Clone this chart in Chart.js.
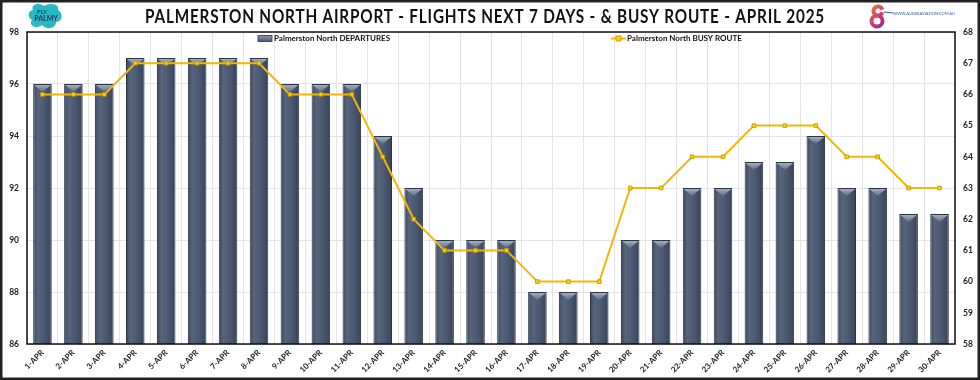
<!DOCTYPE html>
<html>
<head>
<meta charset="utf-8">
<script src="https://cdn.jsdelivr.net/npm/chart.js@4/dist/chart.umd.min.js"></script>
<style>
html,body{margin:0;padding:0;background:#fff;}
#wrap{width:980px;height:380px;position:relative;}
</style>
</head>
<body>
<div id="wrap"><canvas id="c" width="980" height="380"></canvas></div>
<script>
const categories = ['1-APR','2-APR','3-APR','4-APR','5-APR','6-APR','7-APR','8-APR','9-APR','10-APR',
  '11-APR','12-APR','13-APR','14-APR','15-APR','16-APR','17-APR','18-APR','19-APR','20-APR',
  '21-APR','22-APR','23-APR','24-APR','25-APR','26-APR','27-APR','28-APR','29-APR','30-APR'];
const departures = [96,96,96,97,97,97,97,97,96,96,96,94,92,90,90,90,88,88,88,90,90,92,92,93,93,94,92,92,91,91];
const busyRoute  = [66,66,66,67,67,67,67,67,66,66,66,64,62,61,61,61,60,60,60,63,63,64,64,65,65,65,64,64,63,63];
const leftTicks = {min:86, max:98, step:2};
const rightTicks = {min:58, max:68, step:1};
const titleText = 'PALMERSTON NORTH AIRPORT - FLIGHTS NEXT 7 DAYS - & BUSY ROUTE - APRIL 2025';
const barLabel = 'Palmerston North DEPARTURES';
const lineLabel = 'Palmerston North BUSY ROUTE';

const FONT = 'Lato, "Open Sans", sans-serif';

function barGradient(context){
  const chart = context.chart;
  const xs = chart.scales.x;
  if(!xs || context.dataIndex === undefined) return '#4d5b75';
  const cx = xs.getPixelForValue(context.dataIndex);
  const w = (xs.width / categories.length) * 0.6;
  if(!isFinite(cx) || !isFinite(w) || w <= 0) return '#4d5b75';
  const g = chart.ctx.createLinearGradient(cx - w/2, 0, cx + w/2, 0);
  g.addColorStop(0, '#3d495f');
  g.addColorStop(0.25, '#56647e');
  g.addColorStop(0.6, '#4a5872');
  g.addColorStop(1, '#38445a');
  return g;
}

const decor = {
  id:'decor',
  afterDatasetDraw(chart, args){
    if(args.index !== 1) return;
    const ctx = chart.ctx;
    const meta = chart.getDatasetMeta(1);
    ctx.save();
    meta.data.forEach(el => {
      const l = el.x - el.width/2 + 1, r = el.x + el.width/2 - 1, t = el.y + 1;
      const h = 7;
      const g = ctx.createLinearGradient(0, t, 0, t + h);
      g.addColorStop(0, '#a3aec0');
      g.addColorStop(1, '#5d6b85');
      ctx.fillStyle = g;
      ctx.beginPath();
      ctx.moveTo(l, t); ctx.lineTo(r, t); ctx.lineTo(el.x, t + h); ctx.closePath();
      ctx.fill();
    });
    ctx.restore();
  },
  afterDraw(chart){
    const ctx = chart.ctx;
    const a = chart.chartArea;
    ctx.save();
    ctx.strokeStyle = '#111';
    ctx.lineWidth = 1.5;
    ctx.strokeRect(a.left, a.top, a.right - a.left, a.bottom - a.top);
    ctx.lineWidth = 2.5;
    ctx.strokeStyle = '#222';
    ctx.strokeRect(1.25, 1.25, chart.width - 2.5, chart.height - 2.5);

    ctx.fillStyle = '#111';
    ctx.font = 'bold 19px ' + FONT;
    ctx.textBaseline = 'middle';
    ctx.textAlign = 'left';
    try { ctx.letterSpacing = '1px'; } catch(e) {}
    const tw = ctx.measureText(titleText).width;
    const target = 680;
    const sx = Math.min(1, target / tw);
    ctx.save();
    ctx.translate(145, 16.5);
    ctx.scale(sx, 1);
    ctx.fillText(titleText, 0, 0);
    ctx.restore();
    try { ctx.letterSpacing = '0px'; } catch(e) {}

    ctx.fillStyle = '#27b8c4';
    ctx.beginPath();
    ctx.moveTo(33, 10);
    ctx.bezierCurveTo(30, 4, 40, 2, 44, 6);
    ctx.bezierCurveTo(50, 2, 60, 4, 58, 10);
    ctx.bezierCurveTo(64, 14, 62, 22, 56, 22);
    ctx.bezierCurveTo(56, 29, 46, 30, 42, 25);
    ctx.bezierCurveTo(36, 30, 28, 25, 32, 20);
    ctx.bezierCurveTo(27, 17, 28, 11, 33, 10);
    ctx.closePath();
    ctx.fill();
    ctx.fillStyle = '#1d3a5a';
    ctx.font = 'bold 6px ' + FONT;
    ctx.textAlign = 'center';
    ctx.fillText('FLY', 42, 12);
    ctx.font = 'bold 7px ' + FONT;
    ctx.fillText('PALMY', 46, 19);

    const lg = ctx.createLinearGradient(868, 4, 892, 28);
    lg.addColorStop(0, '#f08a24');
    lg.addColorStop(0.5, '#d8357a');
    lg.addColorStop(1, '#5a2a9a');
    ctx.strokeStyle = lg;
    ctx.lineWidth = 4;
    ctx.beginPath();
    ctx.arc(878, 11, 4.5, 0.3, Math.PI * 1.9);
    ctx.stroke();
    ctx.beginPath();
    ctx.arc(877, 21, 5.5, 0, Math.PI * 2);
    ctx.stroke();
    ctx.strokeStyle = '#3b5fa8';
    ctx.lineWidth = 1;
    ctx.beginPath();
    ctx.moveTo(884, 12); ctx.lineTo(893, 13); ctx.stroke();
    ctx.fillStyle = '#3456a0';
    ctx.font = '4px ' + FONT;
    ctx.textAlign = 'left';
    ctx.fillText('WWW.AUSSIEAVIATION.COM.AU', 893, 13.5);

    ctx.font = 'bold 8px ' + FONT;
    ctx.textBaseline = 'middle';
    ctx.textAlign = 'left';
    const ly = 38.5;
    const sg = ctx.createLinearGradient(0, ly - 3, 0, ly + 3);
    sg.addColorStop(0, '#8c98ad');
    sg.addColorStop(1, '#4c5a74');
    ctx.fillStyle = sg;
    ctx.fillRect(258, ly - 3, 14, 6);
    ctx.strokeStyle = '#2b3446';
    ctx.lineWidth = 0.8;
    ctx.strokeRect(258, ly - 3, 14, 6);
    ctx.fillStyle = '#111';
    ctx.fillText(barLabel, 274, ly);

    ctx.strokeStyle = '#f2b705';
    ctx.lineWidth = 2;
    ctx.beginPath(); ctx.moveTo(611, ly); ctx.lineTo(626, ly); ctx.stroke();
    ctx.fillStyle = '#ffd000';
    ctx.fillRect(616, ly - 2.5, 5, 5);
    ctx.strokeStyle = '#c29200';
    ctx.lineWidth = 0.8;
    ctx.strokeRect(616, ly - 2.5, 5, 5);
    ctx.fillStyle = '#111';
    ctx.fillText(lineLabel, 627, ly);
    ctx.restore();
  }
};

new Chart(document.getElementById('c'), {
  type: 'bar',
  data: {
    labels: categories,
    datasets: [
      {
        type: 'line',
        label: lineLabel,
        data: busyRoute,
        yAxisID: 'y1',
        borderColor: '#f2b705',
        borderWidth: 2,
        pointStyle: 'rect',
        pointRadius: 2.6,
        pointBackgroundColor: '#ffd000',
        pointBorderColor: '#c29200',
        pointBorderWidth: 0.8,
        tension: 0,
        fill: false,
        order: 1
      },
      {
        type: 'bar',
        label: barLabel,
        data: departures,
        yAxisID: 'y',
        backgroundColor: barGradient,
        borderColor: '#2b3446',
        borderWidth: 1,
        barPercentage: 0.6,
        categoryPercentage: 1,
        order: 2
      }
    ]
  },
  options: {
    responsive: false,
    animation: false,
    devicePixelRatio: 1,
    layout: { padding: { top: 32, left: 0, right: 0, bottom: 0 } },
    plugins: { legend: { display: false }, title: { display: false }, tooltip: { enabled: false } },
    scales: {
      x: {
        grid: { offset: true, color: '#e4e4e4', drawTicks: false, lineWidth: 1 },
        border: { display: false },
        ticks: { autoSkip: false, minRotation: 45, maxRotation: 45, padding: 4,
                 color: '#222', font: { family: FONT, size: 8, weight: 'bold' } },
        afterFit(s){ s.height = 36; }
      },
      y: {
        position: 'left',
        min: leftTicks.min, max: leftTicks.max,
        ticks: { stepSize: leftTicks.step, padding: 8, color: '#222', font: { family: FONT, size: 8.5, weight: 'bold' } },
        grid: { color: '#e4e4e4', drawTicks: false },
        border: { display: false },
        afterFit(s){ s.width = 27; }
      },
      y1: {
        position: 'right',
        min: rightTicks.min, max: rightTicks.max,
        ticks: { stepSize: rightTicks.step, padding: 8, color: '#222', font: { family: FONT, size: 8.5, weight: 'bold' } },
        grid: { display: false, drawTicks: false },
        border: { display: false },
        afterFit(s){ s.width = 25; }
      }
    }
  },
  plugins: [decor]
});
</script>
</body>
</html>
